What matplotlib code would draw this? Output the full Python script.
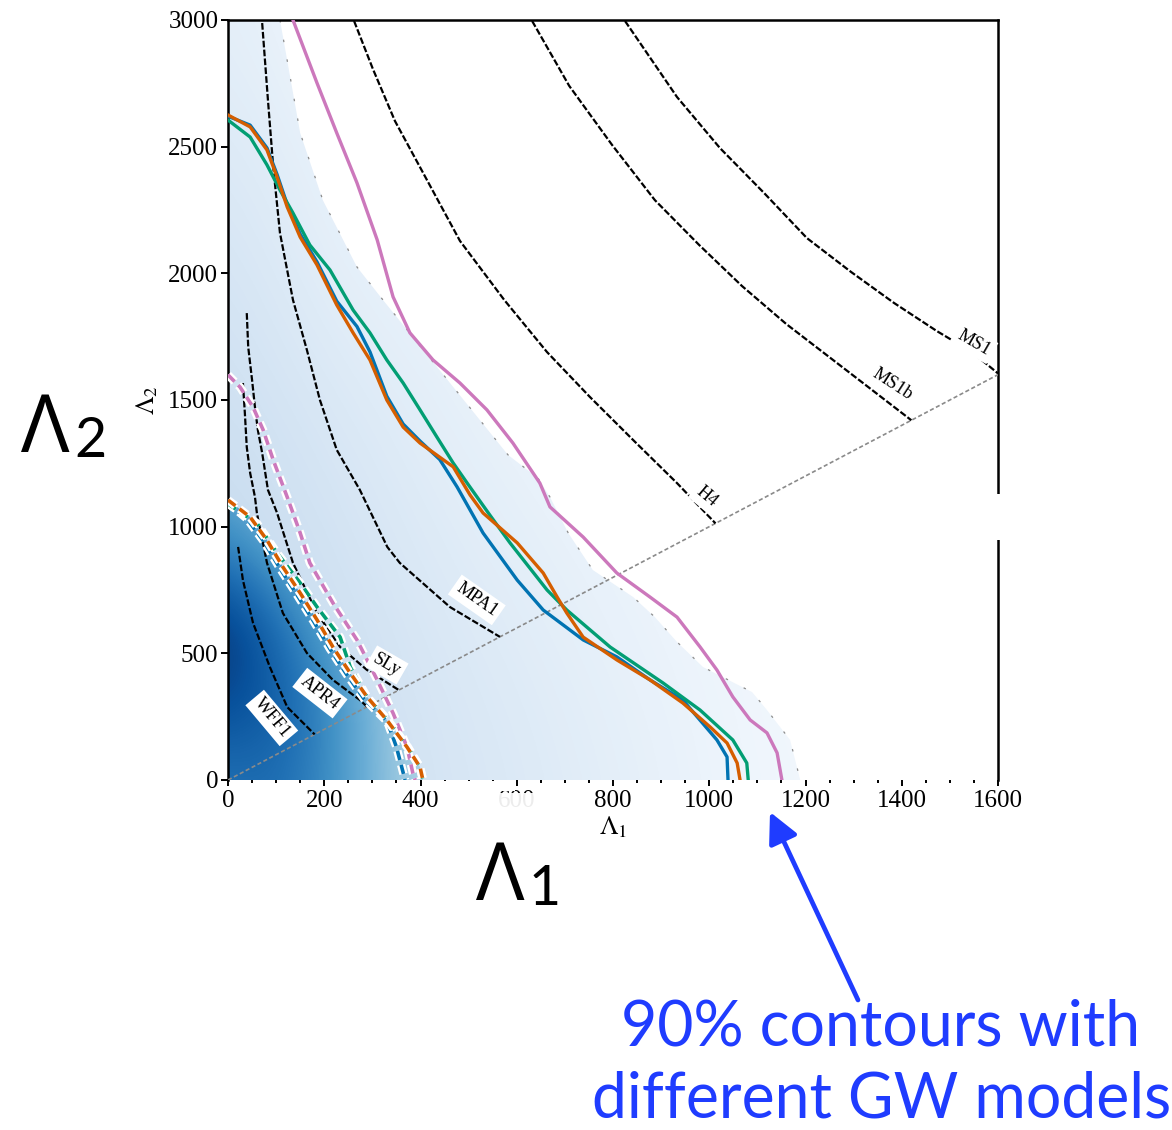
#!/usr/bin/env python3
"""Lambda1-Lambda2 posterior with EOS curves and 90% contours for several GW models."""
import matplotlib

matplotlib.use("Agg")
import matplotlib.pyplot as plt
import matplotlib.patheffects as pe
import numpy as np
from matplotlib.patches import FancyArrowPatch, Polygon, Rectangle

# ---- data ----
# EOS curves (Lambda1, Lambda2), from the high-q end to the equal-mass diagonal
eos_names = ["WFF1", "APR4", "SLy", "MPA1", "H4", "MS1b", "MS1"]
wff1_l1 = [21, 31, 52, 87, 123, 180]
wff1_l2 = [920, 789, 620, 446, 288, 180]
apr4_l1 = [31, 35, 39, 46, 56, 60, 81, 114, 164, 218, 274, 289]
apr4_l2 = [1567, 1449, 1314, 1212, 1117, 1054, 857, 659, 501, 395, 316, 289]
sly_l1 = [39, 42, 50, 56, 62, 71, 83, 102, 135, 185, 233, 289, 355]
sly_l2 = [1843, 1709, 1579, 1472, 1382, 1291, 1145, 1054, 857, 659, 525, 434, 355]
mpa1_l1 = [71, 83, 94, 108, 135, 164, 191, 226, 274, 331, 357, 461, 565]
mpa1_l2 = [2988, 2684, 2420, 2159, 1895, 1697, 1500, 1303, 1145, 920, 857, 683, 565]
h4_l1 = [262, 301, 347, 393, 482, 574, 663, 752, 844, 933, 1013]
h4_l2 = [2996, 2807, 2601, 2440, 2128, 1895, 1689, 1512, 1338, 1172, 1013]
ms1b_l1 = [632, 709, 798, 887, 979, 1068, 1160, 1249, 1338, 1420]
ms1b_l2 = [2996, 2740, 2507, 2289, 2112, 1950, 1800, 1670, 1540, 1420]
ms1_l1 = [825, 933, 1022, 1114, 1203, 1295, 1384, 1473, 1546, 1600]
ms1_l2 = [2996, 2696, 2495, 2317, 2139, 2005, 1883, 1772, 1689, 1605]

# EOS label anchor points and angles
eos_label_l1 = [91, 191, 330, 517, 995, 1380, 1550]
eos_label_l2 = [245, 343, 454, 711, 1117, 1563, 1725]
eos_label_rot = [-50, -38, -30, -35, -40, -33, -30]

# 90% contours, solid (different waveform models)
blue_l1 = [0, 46, 81, 102, 123, 150, 185, 226, 268, 295, 330, 364, 399, 440, 476, 530, 601,
           655, 738, 808, 877, 945, 1016, 1037, 1039]
blue_l2 = [2620, 2585, 2495, 2390, 2272, 2155, 2045, 1890, 1790, 1690, 1515, 1405, 1338,
           1265, 1157, 975, 789, 671, 553, 486, 395, 316, 158, 91, 0]
orange_l1 = [0, 46, 81, 102, 123, 150, 185, 226, 260, 295, 330, 364, 399, 468, 503, 530,
             601, 655, 684, 704, 738, 808, 877, 945, 1002, 1037, 1058, 1064]
orange_l2 = [2625, 2578, 2487, 2380, 2262, 2143, 2033, 1875, 1765, 1658, 1500, 1393, 1330,
             1236, 1125, 1054, 936, 817, 722, 659, 564, 474, 395, 304, 209, 146, 67, 0]
green_l1 = [0, 46, 81, 108, 135, 170, 212, 260, 295, 330, 364, 399, 434, 468, 497, 544,
            586, 663, 704, 794, 904, 981, 1049, 1078, 1081]
green_l2 = [2605, 2538, 2428, 2329, 2238, 2112, 2013, 1855, 1765, 1658, 1567, 1461, 1354,
            1251, 1172, 1046, 936, 750, 671, 525, 383, 276, 158, 67, 0]
pink_l1 = [135, 185, 226, 268, 310, 343, 378, 426, 482, 538, 592, 648, 669, 738, 808, 877,
           933, 981, 1016, 1049, 1085, 1120, 1141, 1151]
pink_l2 = [3000, 2751, 2554, 2357, 2132, 1907, 1765, 1658, 1567, 1461, 1330, 1172, 1078,
           959, 817, 722, 643, 525, 434, 328, 237, 186, 107, 0]

# 90% contours, dashed (EOS-insensitive relations)
dblue_l1 = [0, 40, 75, 108, 143, 178, 211, 246, 282, 331, 350, 368]
dblue_l2 = [1095, 1030, 940, 835, 732, 626, 520, 418, 322, 230, 130, 0]
dorange_l1 = [0, 46, 81, 114, 150, 185, 218, 254, 289, 330, 372, 399, 405]
dorange_l2 = [1105, 1038, 947, 841, 738, 632, 525, 422, 328, 237, 130, 51, 0]
dgreen_l1 = [0, 60, 102, 150, 185, 233, 254, 289, 332, 374, 399, 405]
dgreen_l2 = [1090, 1014, 896, 778, 683, 564, 446, 328, 237, 130, 51, 0]
dpink_l1 = [0, 25, 52, 73, 94, 123, 150, 170, 218, 268, 310, 343, 372, 384, 389]
dpink_l2 = [1599, 1551, 1472, 1382, 1263, 1117, 975, 857, 699, 553, 395, 264, 130, 28, 0]

# faint gray contour = edge of the light posterior shading
edge_l1 = [108, 150, 197, 268, 322, 582, 644, 669, 707, 758, 842, 887, 933, 987, 1089,
           1120, 1168, 1189]
edge_l2 = [3000, 2554, 2289, 2025, 1895, 1283, 1192, 1117, 975, 829, 722, 643, 545, 446,
           347, 276, 158, 0]

# shading intensity (Blues colormap) on coarse grids
light_l1 = [0, 200, 400, 600, 800, 1000, 1200]
light_l2 = [0, 500, 1000, 1500, 2000, 2500, 3000]
light_val = [
    [0.30, 0.24, 0.18, 0.14, 0.10, 0.06, 0.03],
    [0.27, 0.22, 0.16, 0.12, 0.08, 0.05, 0.02],
    [0.24, 0.19, 0.13, 0.09, 0.06, 0.03, 0.02],
    [0.21, 0.15, 0.10, 0.06, 0.03, 0.02, 0.01],
    [0.18, 0.10, 0.06, 0.03, 0.02, 0.01, 0.00],
    [0.14, 0.07, 0.03, 0.02, 0.01, 0.00, 0.00],
    [0.10, 0.04, 0.02, 0.01, 0.00, 0.00, 0.00],
]
dark_l1 = [0, 100, 200, 300, 400]
dark_l2 = [0, 300, 600, 900, 1200]
dark_val = [
    [0.74, 0.77, 0.66, 0.47, 0.32],
    [0.90, 0.83, 0.68, 0.46, 0.32],
    [0.98, 0.79, 0.58, 0.42, 0.30],
    [0.70, 0.55, 0.45, 0.35, 0.30],
    [0.50, 0.40, 0.35, 0.30, 0.30],
]

x_ticks = [0, 200, 400, 600, 800, 1000, 1200, 1400, 1600]
y_ticks = [0, 500, 1000, 1500, 2000, 2500, 3000]

# ---- figure ----
W, H = 1172, 1130
plt.rcParams["font.family"] = "serif"
plt.rcParams["font.serif"] = ["Liberation Serif", "DejaVu Serif"]
plt.rcParams["mathtext.fontset"] = "stix"

fig = plt.figure(figsize=(W / 100, H / 100), dpi=100)
ax = fig.add_axes([228 / W, 1 - 780 / H, 770 / W, 760 / H])
ax.set_xlim(0, 1600)
ax.set_ylim(0, 3000)


def fpx(x, y):
    return x / W, 1 - y / H


def shade(l1, l2, val, clip_xy, z):
    l1 = np.asarray(l1, float)
    l2 = np.asarray(l2, float)
    dx = l1[1] - l1[0]
    dy = l2[1] - l2[0]
    im = ax.imshow(np.asarray(val), origin="lower", cmap="Blues", vmin=0, vmax=1,
                   interpolation="bicubic", aspect="auto", zorder=z,
                   extent=[l1[0] - dx / 2, l1[-1] + dx / 2, l2[0] - dy / 2, l2[-1] + dy / 2])
    poly = Polygon(clip_xy, closed=True, transform=ax.transData, fc="none", ec="none")
    ax.add_patch(poly)
    im.set_clip_path(poly)


light_clip = [(0, 0), (0, 3000)] + list(zip(edge_l1, edge_l2))
shade(light_l1, light_l2, light_val, light_clip, 0)
dark_clip = [(0, 0)] + list(zip(dorange_l1, dorange_l2))
shade(dark_l1, dark_l2, dark_val, dark_clip, 1)

ax.plot(edge_l1, edge_l2, color="#8c8c8c", lw=0.9, ls=(0, (2, 14)), zorder=2)

# equal-mass diagonal
ax.plot([0, 1600], [0, 1600], color="#8a8a8a", lw=1.2, ls=(0, (2.5, 1.5)), zorder=3)

# EOS curves
eos_curves = [(wff1_l1, wff1_l2), (apr4_l1, apr4_l2), (sly_l1, sly_l2), (mpa1_l1, mpa1_l2),
              (h4_l1, h4_l2), (ms1b_l1, ms1b_l2), (ms1_l1, ms1_l2)]
for cx, cy in eos_curves:
    ax.plot(cx, cy, color="black", lw=1.6, ls=(0, (3, 1.0)), zorder=4)
for name, lx, ly, rot in zip(eos_names, eos_label_l1, eos_label_l2, eos_label_rot):
    ax.text(lx, ly, name, fontsize=13, rotation=rot, ha="center", va="center",
            rotation_mode="anchor", zorder=6,
            bbox=dict(boxstyle="square,pad=0.2", fc="white", ec="none"))

# 90% contours
halo = [pe.Stroke(linewidth=6, foreground="white"), pe.Normal()]
dashed = [(dpink_l1, dpink_l2, "#cc78bc"), (dblue_l1, dblue_l2, "#0173b2"),
          (dgreen_l1, dgreen_l2, "#029e73"), (dorange_l1, dorange_l2, "#d55e00")]
for cx, cy, c in dashed:
    ax.plot(cx, cy, color=c, lw=2.6, ls=(0, (2.6, 1.4)), zorder=5, path_effects=halo)

solid = [(blue_l1, blue_l2, "#0173b2"), (green_l1, green_l2, "#029e73"),
         (orange_l1, orange_l2, "#d55e00"), (pink_l1, pink_l2, "#cc78bc")]
for cx, cy, c in solid:
    ax.plot(cx, cy, color=c, lw=2.4, zorder=5, solid_joinstyle="round")

# axes styling
ax.spines["bottom"].set_visible(False)
for s in ["left", "top", "right"]:
    ax.spines[s].set_linewidth(1.8)
ax.set_xticks(x_ticks)
ax.set_xticks(np.arange(0, 1601, 50), minor=True)
ax.set_yticks(y_ticks)
ax.tick_params(axis="x", which="major", direction="out", length=4, width=1.4, labelsize=18, pad=3)
ax.tick_params(axis="x", which="minor", direction="out", length=2, width=1.4)
ax.tick_params(axis="y", which="major", direction="out", length=5, width=1.4, labelsize=18, pad=2)
ax.set_xlabel(r"$\Lambda_1$", fontsize=19, labelpad=2)
ax.set_ylabel(r"$\Lambda_2$", fontsize=19, labelpad=6)

# patches that hide parts of the original slide
fig.patches.append(Rectangle(fpx(425, 791), 90 / W, 10 / H, transform=fig.transFigure,
                             fc="white", ec="none", zorder=10))
fig.patches.append(Rectangle(fpx(493, 817), 52 / W, 24 / H, transform=fig.transFigure,
                             fc="white", ec="none", alpha=0.93, zorder=10))
fig.patches.append(Rectangle(fpx(988, 540), 16 / W, 46 / H, transform=fig.transFigure,
                             fc="white", ec="none", zorder=10))

# slide annotations
sans = ["Open Sans", "DejaVu Sans"]
gill = ["Lato", "Open Sans", "DejaVu Sans"]
fig.text(*fpx(21, 452), "\u039b", fontsize=58, family=sans, ha="left", va="baseline")
fig.text(*fpx(74, 457), "2", fontsize=40, family=gill, ha="left", va="baseline")
fig.text(*fpx(476, 900), "\u039b", fontsize=58, family=sans, ha="left", va="baseline")
fig.text(*fpx(529, 905), "1", fontsize=40, family=gill, ha="left", va="baseline")

blue = "#1f3cff"
fig.text(*fpx(881, 1046), "90% contours with", fontsize=45, family=gill, color=blue,
         ha="center", va="baseline")
fig.text(*fpx(882, 1118), "different GW models", fontsize=45, family=gill, color=blue,
         ha="center", va="baseline")
fig.add_artist(FancyArrowPatch(
    fpx(858, 1000), fpx(770, 812), transform=fig.transFigure, arrowstyle="-|>",
    mutation_scale=46, lw=3.4, color=blue, shrinkA=0, shrinkB=0))

fig.savefig("out.png", dpi=100)
